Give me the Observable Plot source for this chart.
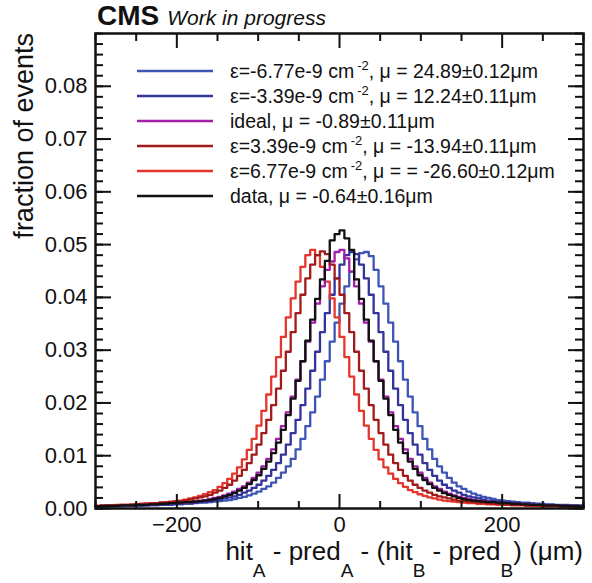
<!DOCTYPE html>
<html>
<head>
<meta charset="utf-8">
<script src="https://cdn.jsdelivr.net/npm/d3@7"></script>
<script src="https://cdn.jsdelivr.net/npm/@observablehq/plot@0.6"></script>
<style>
  html, body { margin: 0; padding: 0; background: #fff; }
  #chart { width: 592px; height: 583px; position: relative; }
</style>
</head>
<body>
<div id="chart"></div>
<script>
// Histogram binning: 100 bins of 6 µm from -300 to 300
const binLo = -300;
const binWidth = 6;

// Series values (fraction of events per bin)
const epsM677 = [
0.0003,0.0004,0.0004,0.0004,0.0004,
0.0004,0.0005,0.0005,0.0005,0.0005,0.0006,0.0006,0.0006,0.0007,0.0007,
0.0007,0.0008,0.0008,0.0009,0.0009,0.0010,0.0011,0.0011,0.0012,0.0013,
0.0014,0.0015,0.0016,0.0018,0.0020,0.0022,0.0025,0.0028,0.0032,0.0037,
0.0042,0.0049,0.0058,0.0068,0.0080,0.0094,0.0112,0.0132,0.0156,0.0182,
0.0212,0.0244,0.0279,0.0316,0.0352,0.0388,0.0421,0.0449,0.0472,0.0484,
0.0486,0.0478,0.0452,0.0421,0.0388,0.0352,0.0316,0.0279,0.0244,0.0212,
0.0182,0.0156,0.0132,0.0112,0.0094,0.0080,0.0068,0.0058,0.0049,0.0042,
0.0037,0.0032,0.0028,0.0025,0.0022,0.0020,0.0018,0.0016,0.0015,0.0014,
0.0013,0.0012,0.0011,0.0011,0.0010,0.0009,0.0009,0.0008,0.0008,0.0007,
0.0007,0.0007,0.0006,0.0006,0.0006];

const epsM339 = [
0.0004,0.0004,0.0004,0.0004,0.0005,0.0005,0.0005,0.0005,0.0006,0.0006,
0.0006,0.0007,0.0007,0.0007,0.0008,0.0008,0.0009,0.0009,0.0010,0.0011,
0.0011,0.0012,0.0013,0.0014,0.0015,0.0017,0.0019,0.0021,0.0023,0.0026,
0.0030,0.0034,0.0039,0.0045,0.0053,0.0062,0.0073,0.0086,0.0102,0.0121,
0.0143,0.0168,0.0196,0.0227,0.0261,0.0297,0.0334,0.0370,0.0405,0.0436,
0.0462,0.0480,0.0486,
0.0482,0.0462,0.0436,0.0405,0.0370,0.0334,0.0297,0.0261,0.0227,0.0196,
0.0168,0.0143,0.0121,0.0102,0.0086,0.0073,0.0062,0.0053,0.0045,0.0039,
0.0034,0.0030,0.0026,0.0023,0.0021,0.0019,0.0017,0.0015,0.0014,0.0013,
0.0012,0.0011,0.0011,0.0010,0.0009,0.0009,0.0008,0.0008,0.0007,0.0007,
0.0007,0.0006,0.0006,0.0006,0.0005,0.0005,0.0005];

const ideal = [
0.0004,0.0005,0.0005,0.0005,0.0005,0.0006,0.0006,0.0006,0.0007,0.0007,
0.0007,0.0008,0.0008,0.0009,0.0009,0.0010,0.0011,0.0011,0.0012,0.0013,
0.0014,0.0015,0.0016,0.0018,0.0020,0.0022,0.0025,0.0028,0.0032,0.0037,
0.0042,0.0049,0.0058,0.0068,0.0080,0.0094,0.0112,0.0132,0.0156,0.0182,
0.0212,0.0244,0.0279,0.0316,0.0352,0.0388,0.0421,0.0452,0.0468,0.0486,
0.0490,0.0474,0.0449,0.0421,0.0388,0.0352,0.0316,0.0279,0.0244,0.0212,
0.0182,0.0156,0.0132,0.0112,0.0094,0.0080,0.0068,0.0058,0.0049,0.0042,
0.0037,0.0032,0.0028,0.0025,0.0022,0.0020,0.0018,0.0016,0.0015,0.0014,
0.0013,0.0012,0.0011,0.0011,0.0010,0.0009,0.0009,0.0008,0.0008,0.0007,
0.0007,0.0007,0.0006,0.0006,0.0006,0.0005,0.0005,0.0005,0.0005,0.0004];

const epsP339 = [
0.0005,0.0005,0.0006,0.0006,0.0006,0.0007,0.0007,0.0007,0.0008,0.0008,
0.0009,0.0009,0.0010,0.0011,0.0011,0.0012,0.0013,0.0014,0.0015,0.0017,
0.0019,0.0021,0.0023,0.0026,0.0030,0.0034,0.0039,0.0045,0.0053,0.0062,
0.0073,0.0086,0.0102,0.0121,0.0143,0.0168,0.0196,0.0227,0.0261,0.0297,
0.0334,0.0370,0.0405,0.0436,0.0462,0.0480,0.0487,
0.0482,0.0462,0.0436,0.0405,0.0370,0.0334,0.0297,0.0261,0.0227,0.0196,
0.0168,0.0143,0.0121,0.0102,0.0086,0.0073,0.0062,0.0053,0.0045,0.0039,
0.0034,0.0030,0.0026,0.0023,0.0021,0.0019,0.0017,0.0015,0.0014,0.0013,
0.0012,0.0011,0.0011,0.0010,0.0009,0.0009,0.0008,0.0008,0.0007,0.0007,
0.0007,0.0006,0.0006,0.0006,0.0005,0.0005,0.0005,0.0005,0.0004,0.0004,
0.0004,0.0004,0.0004];

const epsP677 = [
0.0005,0.0006,0.0006,0.0006,0.0007,0.0007,0.0007,0.0008,0.0008,0.0009,
0.0009,0.0010,0.0010,0.0011,0.0012,0.0013,0.0014,0.0015,0.0017,0.0019,
0.0021,0.0024,0.0027,0.0031,0.0035,0.0041,0.0048,0.0056,0.0066,0.0078,
0.0093,0.0111,0.0132,0.0157,0.0185,0.0216,0.0250,0.0287,0.0325,0.0362,
0.0398,0.0430,0.0458,0.0480,0.0490,
0.0480,0.0458,0.0430,0.0398,0.0362,0.0325,0.0287,0.0250,0.0216,0.0185,
0.0157,0.0132,0.0111,0.0093,0.0078,0.0066,0.0056,0.0048,0.0041,0.0035,
0.0031,0.0027,0.0024,0.0021,0.0019,0.0017,0.0015,0.0014,0.0013,0.0012,
0.0011,0.0010,0.0010,0.0009,0.0009,0.0008,0.0008,0.0007,0.0007,0.0007,
0.0006,0.0006,0.0006,0.0005,0.0005,0.0005,0.0004,0.0004,0.0004,0.0004,
0.0004,0.0003,0.0003,0.0003,0.0003];

const dataHist = [
0.0004,0.0005,0.0005,0.0005,0.0005,0.0006,0.0006,0.0006,0.0007,0.0007,
0.0007,0.0008,0.0008,0.0009,0.0009,0.0010,0.0010,0.0011,0.0012,0.0012,
0.0013,0.0014,0.0015,0.0016,0.0018,0.0020,0.0023,0.0026,0.0029,0.0034,
0.0039,0.0046,0.0054,0.0063,0.0075,0.0089,0.0105,0.0125,0.0149,0.0177,
0.0208,0.0242,0.0279,0.0318,0.0358,0.0397,0.0434,0.0469,0.0508,0.0520,
0.0527,0.0512,0.0490,0.0434,0.0397,0.0358,0.0318,0.0279,0.0242,0.0208,
0.0177,0.0149,0.0125,0.0105,0.0089,0.0075,0.0063,0.0054,0.0046,0.0039,
0.0034,0.0029,0.0026,0.0023,0.0020,0.0018,0.0016,0.0015,0.0014,0.0013,
0.0012,0.0012,0.0011,0.0010,0.0010,0.0009,0.0009,0.0008,0.0008,0.0007,
0.0007,0.0007,0.0006,0.0006,0.0006,0.0005,0.0005,0.0005,0.0005,0.0004];

const seriesNames = [
  "ε=-6.77e-9 cm|-2|, μ = 24.89±0.12μm",
  "ε=-3.39e-9 cm|-2|, μ = 12.24±0.11μm",
  "ideal, μ = -0.89±0.11μm",
  "ε=3.39e-9 cm|-2|, μ = -13.94±0.11μm",
  "ε=6.77e-9 cm|-2|, μ = = -26.60±0.12μm",
  "data, μ = -0.64±0.16μm"
];
const seriesColors = ["#3d55b4", "#34329b", "#a21fa8", "#a11b1b", "#e6352c", "#111111"];
const seriesValues = [epsM677, epsM339, ideal, epsP339, epsP677, dataHist];

const yTicks = [0, 0.01, 0.02, 0.03, 0.04, 0.05, 0.06, 0.07, 0.08];
const yMinor = d3.range(0, 0.0901, 0.002);
const xTicks = [-200, 0, 200];
const xMinor = [-300, -250, -150, -100, -50, 50, 100, 150, 250, 300];

const W = 592, H = 583;
const mL = 95, mR = 9, mT = 33, mB = 75;
const innerW = W - mL - mR, innerH = H - mT - mB;

function steps(vals) {
  const pts = vals.map((v, i) => ({x: binLo + i * binWidth, y: v}));
  pts.push({x: binLo + vals.length * binWidth, y: vals[vals.length - 1]});
  return pts;
}

const marks = [];
[0, 1, 4, 2, 3, 5].forEach(k => {
  marks.push(Plot.line(steps(seriesValues[k]), {x: "x", y: "y", curve: "step-after", stroke: seriesColors[k], strokeWidth: 2.3}));
});
const tk = {stroke: "#111", strokeWidth: 2};
marks.push(Plot.tickX(xTicks, {x: d => d, insetTop: innerH - 14, ...tk}));
marks.push(Plot.tickX(xMinor, {x: d => d, insetTop: innerH - 7, ...tk}));
marks.push(Plot.tickX(xTicks, {x: d => d, insetBottom: innerH - 15, ...tk}));
marks.push(Plot.tickX(xMinor, {x: d => d, insetBottom: innerH - 8, ...tk}));
marks.push(Plot.tickY(yTicks, {y: d => d, insetRight: innerW - 16, ...tk}));
marks.push(Plot.tickY(yMinor, {y: d => d, insetRight: innerW - 8, ...tk}));
marks.push(Plot.tickY(yTicks, {y: d => d, insetLeft: innerW - 15, ...tk}));
marks.push(Plot.tickY(yMinor, {y: d => d, insetLeft: innerW - 8, ...tk}));
marks.push(Plot.frame({stroke: "#111", strokeWidth: 2.5}));

const chart = Plot.plot({
  width: W, height: H,
  marginLeft: mL, marginRight: mR, marginTop: mT, marginBottom: mB,
  style: {fontFamily: "'Liberation Sans', Arial, sans-serif", fontSize: "22px", color: "#111", background: "#fff"},
  x: {domain: [-300, 300], ticks: xTicks, tickSize: 0, tickPadding: 8, label: null},
  y: {domain: [0, 0.09], ticks: yTicks, tickSize: 0, tickPadding: 8, label: null, tickFormat: d => d.toFixed(2)},
  marks
});
document.getElementById("chart").appendChild(chart);

const svg = d3.select(chart);
const ff = "'Liberation Sans', Arial, sans-serif";

// Title
const t = svg.append("text").attr("x", 97).attr("y", 25).attr("text-anchor", "start")
  .attr("font-family", ff).attr("fill", "#111");
t.append("tspan").attr("font-weight", "bold").attr("font-size", 28).text("CMS");
t.append("tspan").attr("font-style", "italic").attr("font-size", 21).attr("dx", 8).text("Work in progress");

// y-axis title
svg.append("text")
  .attr("transform", "translate(33,33) rotate(-90)")
  .attr("text-anchor", "end")
  .attr("font-family", ff).attr("font-size", 27).attr("fill", "#111")
  .text("fraction of events");

// x-axis title with subscripts
const xt = svg.append("text").attr("x", 583).attr("y", 560).attr("text-anchor", "end")
  .attr("font-family", ff).attr("font-size", 26).attr("fill", "#111");
const parts = [["hit", "A"], [" - pred", "A"], [" - (hit", "B"], [" - pred", "B"], [") (μm)", null]];
parts.forEach(([main, sub], i) => {
  const m = xt.append("tspan").text(main);
  if (i > 0) m.attr("dy", -17);
  if (sub) xt.append("tspan").attr("dy", 17).attr("font-size", 19).text(sub);
});

// Legend
seriesNames.forEach((name, i) => {
  const y = 71 + 25 * i;
  svg.append("line").attr("x1", 137).attr("x2", 213).attr("y1", y).attr("y2", y)
    .attr("stroke", seriesColors[i]).attr("stroke-width", 2.5);
  const tx = svg.append("text").attr("x", 230).attr("y", y + 7).attr("text-anchor", "start")
    .attr("font-family", ff).attr("font-size", 19.5).attr("fill", "#111");
  const seg = name.split("|");
  tx.append("tspan").text(seg[0]);
  if (seg.length > 1) {
    tx.append("tspan").attr("dx", 3).attr("dy", -8).attr("font-size", 13).text(seg[1]);
    tx.append("tspan").attr("dy", 8).text(seg[2]);
  }
});
</script>
</body>
</html>
